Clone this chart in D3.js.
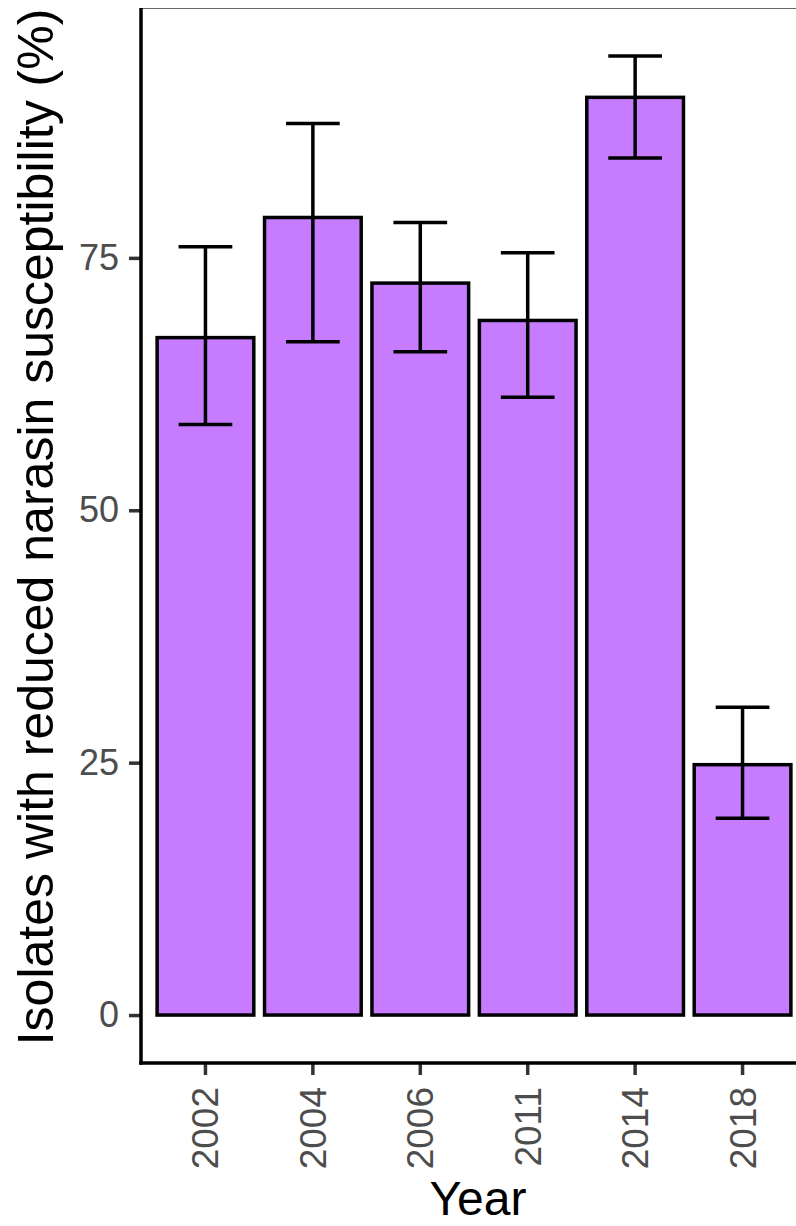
<!DOCTYPE html>
<html>
<head>
<meta charset="utf-8">
<script src="https://cdn.jsdelivr.net/npm/d3@7"></script>
<style>
    body { margin: 0; background: #fff; }
    svg { display: block; font-family: "Liberation Sans", Arial, sans-serif; }
</style>
</head>
<body>
<svg width="796" height="1226"></svg>
<script>
// Data
const years = ["2002", "2004", "2006", "2011", "2014", "2018"]
const values = [67.1, 79.0, 72.5, 68.8, 90.9, 24.8]
const lower = [58.5, 66.7, 65.7, 61.2, 84.9, 19.5]
const upper = [76.1, 88.3, 78.5, 75.5, 95.0, 30.5]
const yTicks = [0, 25, 50, 75]

const data = years.map((y, i) => ({ year: y, value: values[i], lo: lower[i], hi: upper[i] }))

const svg = d3.select("svg")

// panel goes past the right edge of the picture (cropped)
const panelLeft = 141, panelRight = 807, panelTop = 8, panelBottom = 1063

// ggplot-like expansion: 5% on continuous, 0.6 step on discrete
const yMax = d3.max(upper)
const yScale = d3.scaleLinear()
    .domain([-0.05 * yMax, yMax * 1.05])
    .range([panelBottom, panelTop])

const xScale = d3.scaleBand()
    .domain(years)
    .range([panelLeft, panelRight])
    .paddingInner(0.1)
    .paddingOuter(0.15)

const step = xScale.step()

// Bars
svg.append("g")
    .selectAll("rect")
    .data(data)
    .enter()
    .append("rect")
    .attr("x", d => xScale(d.year))
    .attr("y", d => yScale(d.value))
    .attr("width", xScale.bandwidth())
    .attr("height", d => yScale(0) - yScale(d.value))
    .style("fill", "#C77CFF")
    .style("stroke", "black")
    .style("stroke-width", 3.5)

// Error bars
const errG = svg.append("g")
    .selectAll("g")
    .data(data)
    .enter()
    .append("g")
    .attr("transform", d => "translate(" + (xScale(d.year) + xScale.bandwidth() / 2) + ",0)")
    .style("stroke", "black")
    .style("stroke-width", 3.5)

errG.append("line")
    .attr("x1", 0).attr("x2", 0)
    .attr("y1", d => yScale(d.lo)).attr("y2", d => yScale(d.hi))

errG.append("line")
    .attr("x1", -step / 4).attr("x2", step / 4)
    .attr("y1", d => yScale(d.hi)).attr("y2", d => yScale(d.hi))

errG.append("line")
    .attr("x1", -step / 4).attr("x2", step / 4)
    .attr("y1", d => yScale(d.lo)).attr("y2", d => yScale(d.lo))

// thin border along the top of the crop
svg.append("line")
    .attr("x1", panelLeft).attr("x2", 796)
    .attr("y1", panelTop + 0.5).attr("y2", panelTop + 0.5)
    .style("stroke", "#666")
    .style("stroke-width", 1)

// Y axis
const yAxis = d3.axisLeft(yScale)
    .tickValues(yTicks)
    .tickSize(12)
    .tickPadding(10)
    .tickFormat(d3.format("d"))

const yAxisG = svg.append("g")
    .attr("transform", "translate(" + panelLeft + ",0)")
    .call(yAxis)

yAxisG.select(".domain").remove()
yAxisG.selectAll(".tick line").style("stroke", "#333").style("stroke-width", 3.5)
yAxisG.selectAll(".tick text")
    .style("font-size", "36px")
    .style("fill", "#4D4D4D")
    .style("font-family", "'Liberation Sans', Arial, sans-serif")

svg.append("line")
    .attr("x1", panelLeft).attr("x2", panelLeft)
    .attr("y1", panelTop).attr("y2", panelBottom + 1.75)
    .style("stroke", "black")
    .style("stroke-width", 3.5)

// X axis
const xAxis = d3.axisBottom(xScale).tickSize(12).tickPadding(10)

const xAxisG = svg.append("g")
    .attr("transform", "translate(0," + panelBottom + ")")
    .call(xAxis)

xAxisG.select(".domain").remove()
xAxisG.selectAll(".tick line").style("stroke", "#333").style("stroke-width", 3.5)
xAxisG.selectAll(".tick text")
    .attr("transform", "rotate(-90)")
    .attr("x", -24)
    .attr("y", 0)
    .attr("dy", "0.35em")
    .style("text-anchor", "end")
    .style("font-size", "37px")
    .style("fill", "#4D4D4D")
    .style("font-family", "'Liberation Sans', Arial, sans-serif")

svg.append("line")
    .attr("x1", panelLeft - 1.75).attr("x2", 796)
    .attr("y1", panelBottom).attr("y2", panelBottom)
    .style("stroke", "black")
    .style("stroke-width", 3.5)

// Axis titles
svg.append("text")
    .attr("transform", "translate(53,527) rotate(-90)")
    .style("text-anchor", "middle")
    .style("font-size", "50px")
    .style("fill", "black")
    .text("Isolates with reduced narasin susceptibility (%)")

svg.append("text")
    .attr("x", (panelLeft + panelRight) / 2 + 4)
    .attr("y", 1215)
    .style("text-anchor", "middle")
    .style("font-size", "48px")
    .style("fill", "black")
    .text("Year")
</script>
</body>
</html>
